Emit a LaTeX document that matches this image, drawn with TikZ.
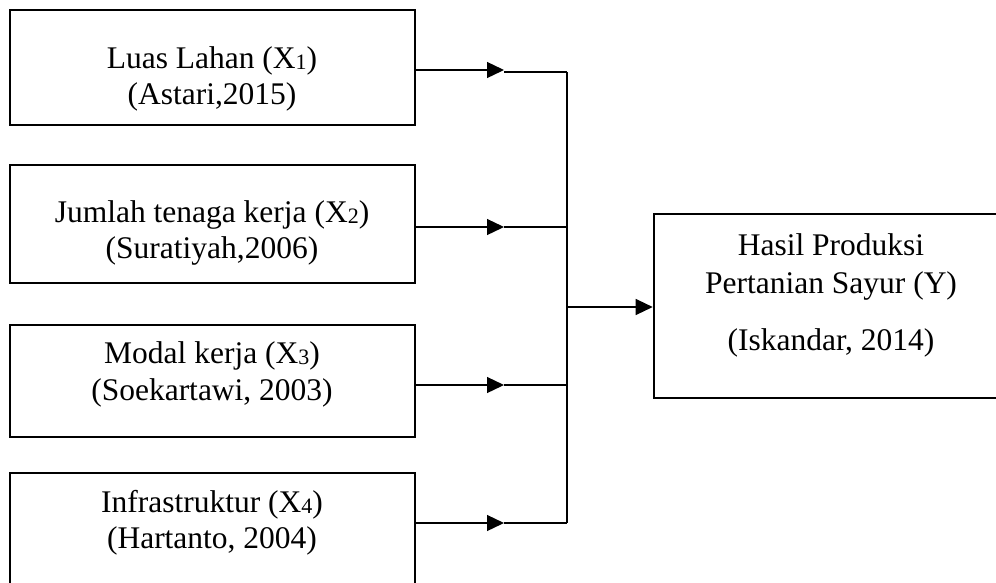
\documentclass[tikz,border=0pt]{standalone}
\usepackage{fontspec}
\setmainfont{Liberation Serif}
\usetikzlibrary{arrows.meta}
\newcommand\xsub[1]{\raisebox{-1.5pt}{\fontsize{22}{22}\selectfont #1}}
\tikzset{
  box/.style={draw=black, line width=2.6pt, rectangle, inner sep=0pt, fill=white},
  lbl/.style={inner sep=0pt, anchor=base, font=\fontsize{31.5}{37}\selectfont},
  conn/.style={draw=black, line width=1.3pt},
  arr/.style={conn, -{Triangle[length=17pt, width=16pt]}}
}
\begin{document}
\begin{tikzpicture}[x=1pt,y=-1pt]
\useasboundingbox (0,0) rectangle (996,582);
\fill[white] (0,0) rectangle (996,582);
\clip (0,0) rectangle (996,582);
% boxes
\node[box, minimum width=405pt, minimum height=115pt] (b1) at (212.5,67.5) {};
\node[box, minimum width=405pt, minimum height=118pt] (b2) at (212.5,224) {};
\node[box, minimum width=405pt, minimum height=112pt] (b3) at (212.5,381) {};
\node[box, minimum width=405pt, minimum height=150pt] (b4) at (212.5,548) {};
\node[box, minimum width=354pt, minimum height=184pt] (y) at (831,306) {};
% labels
\node[lbl] (t1a) at (212,68) {Luas Lahan (X\xsub{1})};
\node[lbl] (t1b) at (212,104) {(Astari,2015)};
\node[lbl] (t2a) at (212,222) {Jumlah tenaga kerja (X\xsub{2})};
\node[lbl] (t2b) at (212,258) {(Suratiyah,2006)};
\node[lbl] (t3a) at (212,363) {Modal kerja (X\xsub{3})};
\node[lbl] (t3b) at (212,400) {(Soekartawi, 2003)};
\node[lbl] (t4a) at (212,512) {Infrastruktur (X\xsub{4})};
\node[lbl] (t4b) at (212,548) {(Hartanto, 2004)};
\node[lbl] (ya) at (831,255) {Hasil Produksi};
\node[lbl] (yb) at (831,293) {Pertanian Sayur (Y)};
\node[lbl] (yc) at (831,350) {(Iskandar, 2014)};
% connector points
\coordinate (p1) at (504,70);
\coordinate (p2) at (504,227);
\coordinate (p3) at (504,385);
\coordinate (p4) at (504,523);
\coordinate (j1) at (567,72);
\coordinate (j4) at (567,523);
\coordinate (jy) at (567,307);
% arrows from boxes
\draw[arr] (b1.east |- p1) -- (p1);
\draw[arr] (b2.east |- p2) -- (p2);
\draw[arr] (b3.east |- p3) -- (p3);
\draw[arr] (b4.east |- p4) -- (p4);
% lines to the bus
\draw[conn] (p1 |- j1) -- (j1);
\draw[conn] (p2) -- (p2 -| j1);
\draw[conn] (p3) -- (p3 -| j1);
\draw[conn] (p4) -- (j4);
\draw[conn] (j1) -- (j4);
% arrow to Y
\draw[arr] (jy) -- (y.west |- jy);
\end{tikzpicture}
\end{document}
